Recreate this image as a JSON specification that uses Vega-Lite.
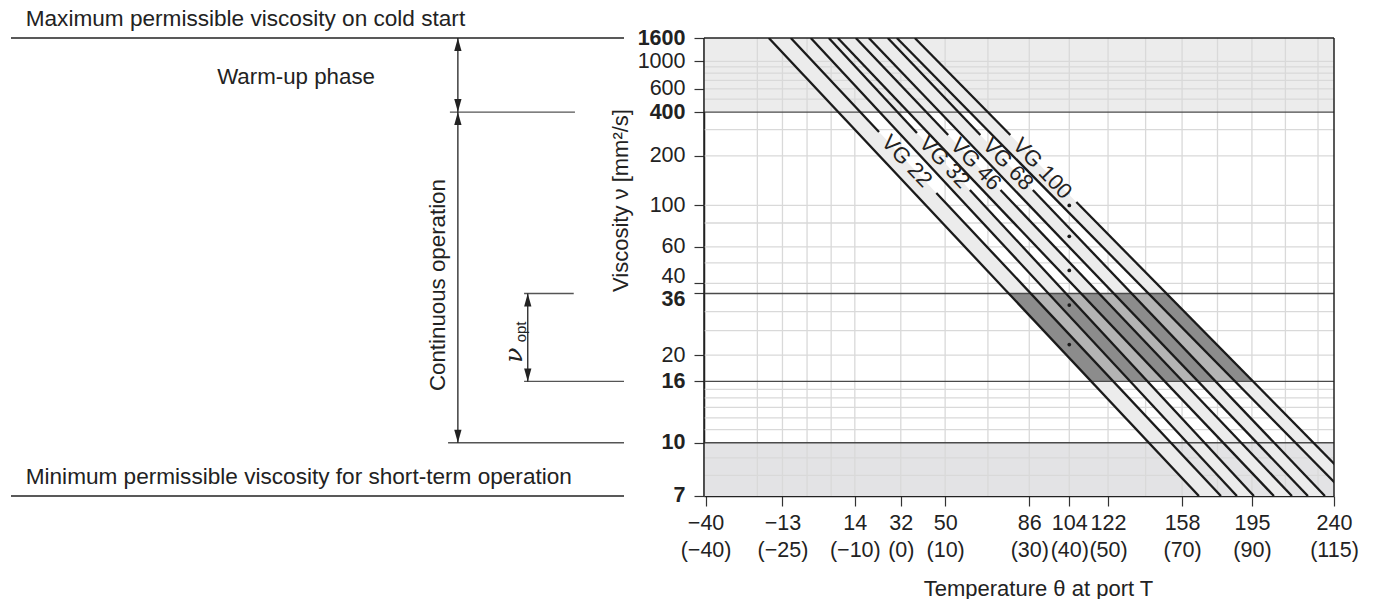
{
  "$schema": "https://vega.github.io/schema/vega-lite/v6.json",
  "padding": {"left": 10, "top": 7, "right": 0, "bottom": 0},
  "background": "white",
  "spacing": 80,
  "bounds": "flush",
  "config": {
    "view": {"stroke": null},
    "text": {"font": "Liberation Sans", "color": "#222"},
    "axis": {"labelFont": "Liberation Sans", "titleFont": "Liberation Sans", "labelFontSize": 21.5, "titleFontSize": 22, "titleFontWeight": "normal", "labelColor": "#222", "titleColor": "#222", "grid": false}
  },
  "hconcat": [
    {
      "width": 613,
      "height": 458,
      "layer": [
        {
          "data": {"values": [
            {"x": 0, "x2": 100, "nu": 1600},
            {"x": 0, "x2": 100, "nu": 7},
            {"x": 71.6, "x2": 92, "nu": 400},
            {"x": 71.3, "x2": 100, "nu": 10},
            {"x": 83.7, "x2": 91.8, "nu": 36},
            {"x": 83.7, "x2": 100, "nu": 16}
          ]},
          "transform": [{"calculate": "log(log(datum.nu + 0.7) / LN10) / LN10", "as": "v"}],
          "mark": {"type": "rule", "strokeWidth": 1.3},
          "encoding": {
            "x": {"field": "x", "type": "quantitative", "scale": {"domain": [0, 100], "nice": false, "zero": false}, "axis": null},
            "x2": {"field": "x2"},
            "y": {"field": "v", "type": "quantitative", "scale": {"domain": [-0.052324, 0.505734], "nice": false, "zero": false}, "axis": null},
            "color": {"condition": {"test": "datum.nu == 1600 || datum.nu == 7", "value": "#222"}, "value": "#555"}
          }
        },
        {
          "data": {"values": [
            {"x": 72.9, "nu": 1600, "nu2": 400},
            {"x": 72.9, "nu": 400, "nu2": 10},
            {"x": 84.3, "nu": 36, "nu2": 16}
          ]},
          "transform": [
            {"calculate": "log(log(datum.nu + 0.7) / LN10) / LN10", "as": "v"},
            {"calculate": "log(log(datum.nu2 + 0.7) / LN10) / LN10", "as": "v2"}
          ],
          "mark": {"type": "rule", "strokeWidth": 1.3, "color": "#222"},
          "encoding": {
            "x": {"field": "x", "type": "quantitative", "scale": {"domain": [0, 100], "nice": false, "zero": false}, "axis": null},
            "y": {"field": "v", "type": "quantitative", "scale": {"domain": [-0.052324, 0.505734], "nice": false, "zero": false}, "axis": null},
            "y2": {"field": "v2"}
          }
        },
        {
          "data": {"values": [
            {"x": 72.9, "nu": 1600},
            {"x": 72.9, "nu": 400},
            {"x": 84.3, "nu": 36}
          ]},
          "transform": [{"calculate": "log(log(datum.nu + 0.7) / LN10) / LN10", "as": "v"}],
          "mark": {"type": "point", "shape": "M0,0L-0.28,1L0.28,1Z", "filled": true, "size": 676, "color": "#222", "opacity": 1, "strokeWidth": 0},
          "encoding": {
            "x": {"field": "x", "type": "quantitative", "scale": {"domain": [0, 100], "nice": false, "zero": false}, "axis": null},
            "y": {"field": "v", "type": "quantitative", "scale": {"domain": [-0.052324, 0.505734], "nice": false, "zero": false}, "axis": null}
          }
        },
        {
          "data": {"values": [
            {"x": 72.9, "nu": 400},
            {"x": 72.9, "nu": 10},
            {"x": 84.3, "nu": 16}
          ]},
          "transform": [{"calculate": "log(log(datum.nu + 0.7) / LN10) / LN10", "as": "v"}],
          "mark": {"type": "point", "shape": "M0,0L-0.28,-1L0.28,-1Z", "filled": true, "size": 676, "color": "#222", "opacity": 1, "strokeWidth": 0},
          "encoding": {
            "x": {"field": "x", "type": "quantitative", "scale": {"domain": [0, 100], "nice": false, "zero": false}, "axis": null},
            "y": {"field": "v", "type": "quantitative", "scale": {"domain": [-0.052324, 0.505734], "nice": false, "zero": false}, "axis": null}
          }
        },
        {
          "data": {"values": [
            {"x": 2.4, "nu": 1600, "label": "Maximum permissible viscosity on cold start"},
            {"x": 2.4, "nu": 7, "label": "Minimum permissible viscosity for short-term operation"}
          ]},
          "transform": [{"calculate": "log(log(datum.nu + 0.7) / LN10) / LN10", "as": "v"}],
          "mark": {"type": "text", "align": "left", "baseline": "bottom", "dy": -7, "fontSize": 22.6},
          "encoding": {
            "x": {"field": "x", "type": "quantitative", "scale": {"domain": [0, 100], "nice": false, "zero": false}, "axis": null},
            "y": {"field": "v", "type": "quantitative", "scale": {"domain": [-0.052324, 0.505734], "nice": false, "zero": false}, "axis": null},
            "text": {"field": "label"}
          }
        },
        {
          "data": {"values": [{"x": 46.5, "nu": 744, "label": "Warm-up phase"}]},
          "transform": [{"calculate": "log(log(datum.nu + 0.7) / LN10) / LN10", "as": "v"}],
          "mark": {"type": "text", "align": "center", "baseline": "middle", "fontSize": 22.3},
          "encoding": {
            "x": {"field": "x", "type": "quantitative", "scale": {"domain": [0, 100], "nice": false, "zero": false}, "axis": null},
            "y": {"field": "v", "type": "quantitative", "scale": {"domain": [-0.052324, 0.505734], "nice": false, "zero": false}, "axis": null},
            "text": {"field": "label"}
          }
        },
        {
          "data": {"values": [{"x": 69.6, "nu": 39.3, "label": "Continuous operation"}]},
          "transform": [{"calculate": "log(log(datum.nu + 0.7) / LN10) / LN10", "as": "v"}],
          "mark": {"type": "text", "align": "center", "baseline": "middle", "angle": 270, "fontSize": 22.3},
          "encoding": {
            "x": {"field": "x", "type": "quantitative", "scale": {"domain": [0, 100], "nice": false, "zero": false}, "axis": null},
            "y": {"field": "v", "type": "quantitative", "scale": {"domain": [-0.052324, 0.505734], "nice": false, "zero": false}, "axis": null},
            "text": {"field": "label"}
          }
        },
        {
          "data": {"values": [{"x": 82.1, "nu": 20, "label": "ν"}]},
          "transform": [{"calculate": "log(log(datum.nu + 0.7) / LN10) / LN10", "as": "v"}],
          "mark": {"type": "text", "align": "center", "baseline": "middle", "angle": 270, "fontSize": 25, "font": "DejaVu Serif", "fontStyle": "italic"},
          "encoding": {
            "x": {"field": "x", "type": "quantitative", "scale": {"domain": [0, 100], "nice": false, "zero": false}, "axis": null},
            "y": {"field": "v", "type": "quantitative", "scale": {"domain": [-0.052324, 0.505734], "nice": false, "zero": false}, "axis": null},
            "text": {"field": "label"}
          }
        },
        {
          "data": {"values": [{"x": 83.2, "nu": 24.7, "label": "opt"}]},
          "transform": [{"calculate": "log(log(datum.nu + 0.7) / LN10) / LN10", "as": "v"}],
          "mark": {"type": "text", "align": "center", "baseline": "middle", "angle": 270, "fontSize": 15},
          "encoding": {
            "x": {"field": "x", "type": "quantitative", "scale": {"domain": [0, 100], "nice": false, "zero": false}, "axis": null},
            "y": {"field": "v", "type": "quantitative", "scale": {"domain": [-0.052324, 0.505734], "nice": false, "zero": false}, "axis": null},
            "text": {"field": "label"}
          }
        }
      ]
    },
    {
      "width": 630,
      "height": 458,
      "layer": [
        {
          "data": {"values": [
            {"t": 243.15}, {"t": 248.15}, {"t": 253.15}, {"t": 258.15}, {"t": 263.15}, {"t": 273.15},
            {"t": 283.15}, {"t": 293.15}, {"t": 303.15}, {"t": 313.15}, {"t": 323.15}, {"t": 333.15},
            {"t": 343.15}, {"t": 353.15}, {"t": 363.15}, {"t": 373.15}, {"t": 383.15}
          ]},
          "mark": {"type": "rule", "color": "#d9d9d9", "strokeWidth": 1.3, "opacity": 0},
          "encoding": {
            "x": {
              "field": "t", "type": "quantitative",
              "scale": {"type": "log", "domain": [232.85, 388.15], "nice": false, "zero": false},
              "axis": {
                "values": [233.15, 248.15, 263.15, 273.15, 283.15, 303.15, 313.15, 323.15, 343.15, 363.15, 388.15],
                "tickCount": 100,
                "labelExpr": "[['−40','−13','14','32','50','86','104','122','158','195','240'][indexof([-40,-25,-10,0,10,30,40,50,70,90,115], round(datum.value - 273.15))], '(' + replace('' + round(datum.value - 273.15), '-', '−') + ')']",
                "labelLineHeight": 27,
                "labelPadding": 6,
                "labelOverlap": false,
                "labelFlush": false,
                "tickSize": 10,
                "tickColor": "#333",
                "tickWidth": 1.2,
                "domainColor": "#222",
                "domainWidth": 1.5,
                "title": "Temperature θ at port T",
                "titleX": 334,
                "titleY": 92,
                "titleAlign": "center",
                "titleBaseline": "middle"
              }
            },
            "y": {
              "datum": 0.2, "type": "quantitative",
              "scale": {"domain": [-0.052324, 0.505734], "nice": false, "zero": false},
              "axis": {
                "values": [0.505734, 0.477165, 0.443838, 0.415444, 0.362209, 0.301687, 0.251197, 0.206716, 0.194422, 0.119246, 0.087326, 0.012578, -0.052323],
                "tickCount": 100,
                "labelExpr": "'' + round(pow(10, pow(10, datum.value)) - 0.7)",
                "labelFontWeight": {"condition": {"test": "indexof([1600, 400, 36, 16, 10, 7], round(pow(10, pow(10, datum.value)) - 0.7)) >= 0", "value": "bold"}, "value": "normal"},
                "labelOffset": {"condition": [
                  {"test": "abs(datum.value - 0.206716) < 0.00001", "value": -7},
                  {"test": "abs(datum.value - 0.194422) < 0.00001", "value": 6}
                ], "value": 0},
                "labelPadding": 9,
                "labelOverlap": false,
                "labelFlush": false,
                "tickSize": 10,
                "tickColor": "#333",
                "tickWidth": 1.2,
                "domainColor": "#222",
                "domainWidth": 1.5,
                "title": "Viscosity ν [mm²/s]",
                "titleX": -84,
                "titleY": 162,
                "titleAlign": "center",
                "titleBaseline": "middle"
              }
            }
          }
        },
        {
          "data": {"values": [
            {"zone": "cold start", "nu": 400, "nu2": 1600},
            {"zone": "short-term", "nu": 7, "nu2": 10}
          ]},
          "transform": [
            {"calculate": "log(log(datum.nu + 0.7) / LN10) / LN10", "as": "v"},
            {"calculate": "log(log(datum.nu2 + 0.7) / LN10) / LN10", "as": "v2"}
          ],
          "mark": {"type": "rect"},
          "encoding": {
            "x": {"datum": 232.85, "type": "quantitative", "scale": {"type": "log", "domain": [232.85, 388.15], "nice": false, "zero": false}},
            "x2": {"datum": 388.15},
            "y": {"field": "v", "type": "quantitative", "scale": {"domain": [-0.052324, 0.505734], "nice": false, "zero": false}},
            "y2": {"field": "v2"},
            "fill": {"condition": {"test": "datum.zone == 'cold start'", "value": "#ececec"}, "value": "#e3e3e5"}
          }
        },
        {
          "data": {"values": [
            {"t": 243.15}, {"t": 248.15}, {"t": 253.15}, {"t": 258.15}, {"t": 263.15}, {"t": 273.15},
            {"t": 283.15}, {"t": 293.15}, {"t": 303.15}, {"t": 313.15}, {"t": 323.15}, {"t": 333.15},
            {"t": 343.15}, {"t": 353.15}, {"t": 363.15}, {"t": 373.15}, {"t": 383.15}
          ]},
          "mark": {"type": "rule", "color": "#d9d9d9", "strokeWidth": 1.3},
          "encoding": {
            "x": {"field": "t", "type": "quantitative", "scale": {"type": "log", "domain": [232.85, 388.15], "nice": false, "zero": false}}
          }
        },
        {
          "data": {"values": [
            {"nu": 8}, {"nu": 9}, {"nu": 11}, {"nu": 12}, {"nu": 13}, {"nu": 14}, {"nu": 15},
            {"nu": 20}, {"nu": 25}, {"nu": 30}, {"nu": 40}, {"nu": 50}, {"nu": 60}, {"nu": 80},
            {"nu": 100}, {"nu": 200}, {"nu": 300}, {"nu": 500}, {"nu": 600}, {"nu": 700},
            {"nu": 800}, {"nu": 900}, {"nu": 1000}
          ]},
          "transform": [{"calculate": "log(log(datum.nu + 0.7) / LN10) / LN10", "as": "v"}],
          "mark": {"type": "rule", "color": "#d9d9d9", "strokeWidth": 1.3},
          "encoding": {
            "y": {"field": "v", "type": "quantitative", "scale": {"domain": [-0.052324, 0.505734], "nice": false, "zero": false}}
          }
        },
        {
          "data": {"values": [
            {"grade": "VG 22", "nu": 1600, "t": 245.41, "t2": 249.83},
            {"grade": "VG 22", "nu": 7, "t": 347.86, "t2": 354.13},
            {"grade": "VG 32", "nu": 1600, "t": 253.91, "t2": 257.65},
            {"grade": "VG 32", "nu": 7, "t": 358.75, "t2": 363.74},
            {"grade": "VG 46", "nu": 1600, "t": 259.54, "t2": 263.36},
            {"grade": "VG 46", "nu": 7, "t": 369.69, "t2": 375.13},
            {"grade": "VG 68", "nu": 1600, "t": 266.15, "t2": 270.28},
            {"grade": "VG 68", "nu": 7, "t": 380.03, "t2": 385.31},
            {"grade": "VG 100", "nu": 1600, "t": 272.27, "t2": 276.27},
            {"grade": "VG 100", "nu": 7, "t": 392.57, "t2": 398.34}
          ]},
          "transform": [{"calculate": "log(log(datum.nu + 0.7) / LN10) / LN10", "as": "v"}],
          "mark": {"type": "area", "orient": "horizontal", "color": "#ececec", "opacity": 1, "clip": true},
          "encoding": {
            "y": {"field": "v", "type": "quantitative", "scale": {"domain": [-0.052324, 0.505734], "nice": false, "zero": false}},
            "x": {"field": "t", "type": "quantitative", "scale": {"type": "log", "domain": [232.85, 388.15], "nice": false, "zero": false}},
            "x2": {"field": "t2"},
            "detail": {"field": "grade"}
          }
        },
        {
          "data": {"values": [
            {"nu": 36, "t": 298.25, "t2": 338.97},
            {"nu": 16, "t": 318.93, "t2": 363.66}
          ]},
          "transform": [{"calculate": "log(log(datum.nu + 0.7) / LN10) / LN10", "as": "v"}],
          "mark": {"type": "area", "orient": "horizontal", "color": "#b4b4b4", "opacity": 1, "clip": true},
          "encoding": {
            "y": {"field": "v", "type": "quantitative", "scale": {"domain": [-0.052324, 0.505734], "nice": false, "zero": false}},
            "x": {"field": "t", "type": "quantitative", "scale": {"type": "log", "domain": [232.85, 388.15], "nice": false, "zero": false}},
            "x2": {"field": "t2"}
          }
        },
        {
          "data": {"values": [
            {"grade": "VG 22", "nu": 36, "t": 298.25, "t2": 303.62},
            {"grade": "VG 22", "nu": 16, "t": 318.93, "t2": 324.68},
            {"grade": "VG 32", "nu": 36, "t": 308.03, "t2": 312.42},
            {"grade": "VG 32", "nu": 16, "t": 329.18, "t2": 333.82},
            {"grade": "VG 46", "nu": 36, "t": 316.29, "t2": 320.94},
            {"grade": "VG 46", "nu": 16, "t": 338.53, "t2": 343.51},
            {"grade": "VG 68", "nu": 36, "t": 324.78, "t2": 329.53},
            {"grade": "VG 68", "nu": 16, "t": 347.78, "t2": 352.76},
            {"grade": "VG 100", "nu": 36, "t": 334.06, "t2": 338.97},
            {"grade": "VG 100", "nu": 16, "t": 358.39, "t2": 363.66}
          ]},
          "transform": [{"calculate": "log(log(datum.nu + 0.7) / LN10) / LN10", "as": "v"}],
          "mark": {"type": "area", "orient": "horizontal", "color": "#8c8c8c", "opacity": 1, "clip": true},
          "encoding": {
            "y": {"field": "v", "type": "quantitative", "scale": {"domain": [-0.052324, 0.505734], "nice": false, "zero": false}},
            "x": {"field": "t", "type": "quantitative", "scale": {"type": "log", "domain": [232.85, 388.15], "nice": false, "zero": false}},
            "x2": {"field": "t2"},
            "detail": {"field": "grade"}
          }
        },
        {
          "data": {"values": [{"nu": 400}, {"nu": 36}, {"nu": 16}, {"nu": 10}]},
          "transform": [{"calculate": "log(log(datum.nu + 0.7) / LN10) / LN10", "as": "v"}],
          "mark": {"type": "rule", "color": "#4a4a4a", "strokeWidth": 1.3},
          "encoding": {
            "y": {"field": "v", "type": "quantitative", "scale": {"domain": [-0.052324, 0.505734], "nice": false, "zero": false}}
          }
        },
        {
          "data": {"values": [{"nu": 1600}]},
          "transform": [{"calculate": "log(log(datum.nu + 0.7) / LN10) / LN10", "as": "v"}],
          "mark": {"type": "rule", "color": "#222", "strokeWidth": 1.5},
          "encoding": {
            "y": {"field": "v", "type": "quantitative", "scale": {"domain": [-0.052324, 0.505734], "nice": false, "zero": false}}
          }
        },
        {
          "data": {"values": [{"t": 232.85}, {"t": 388.15}]},
          "mark": {"type": "rule", "color": "#222", "strokeWidth": 1.5},
          "encoding": {
            "x": {"field": "t", "type": "quantitative", "scale": {"type": "log", "domain": [232.85, 388.15], "nice": false, "zero": false}}
          }
        },
        {
          "data": {"values": [
            {"line": "1", "t": 245.41, "nu": 1600, "t2": 347.86, "nu2": 7},
            {"line": "2", "t": 249.83, "nu": 1600, "t2": 268.37, "nu2": 288.7},
            {"line": "2", "t": 281.14, "nu": 118.0, "t2": 354.13, "nu2": 7},
            {"line": "3", "t": 253.91, "nu": 1600, "t2": 358.75, "nu2": 7},
            {"line": "4", "t": 257.65, "nu": 1600, "t2": 276.75, "nu2": 284.1},
            {"line": "4", "t": 288.89, "nu": 122.9, "t2": 363.74, "nu2": 7},
            {"line": "5", "t": 259.54, "nu": 1600, "t2": 369.69, "nu2": 7},
            {"line": "6", "t": 263.36, "nu": 1600, "t2": 283.85, "nu2": 275.3},
            {"line": "6", "t": 296.16, "nu": 122.9, "t2": 375.13, "nu2": 7},
            {"line": "7", "t": 266.15, "nu": 1600, "t2": 380.03, "nu2": 7},
            {"line": "8", "t": 270.28, "nu": 1600, "t2": 291.36, "nu2": 275.3},
            {"line": "8", "t": 304.03, "nu": 122.9, "t2": 385.31, "nu2": 7},
            {"line": "9", "t": 272.27, "nu": 1600, "t2": 392.57, "nu2": 7},
            {"line": "10", "t": 276.27, "nu": 1600, "t2": 298.53, "nu2": 275.3},
            {"line": "10", "t": 314.95, "nu": 104.6, "t2": 398.34, "nu2": 7}
          ]},
          "transform": [
            {"calculate": "log(log(datum.nu + 0.7) / LN10) / LN10", "as": "v"},
            {"calculate": "log(log(datum.nu2 + 0.7) / LN10) / LN10", "as": "v2"}
          ],
          "mark": {"type": "rule", "color": "#1a1a1a", "strokeWidth": 2.3, "clip": true},
          "encoding": {
            "x": {"field": "t", "type": "quantitative", "scale": {"type": "log", "domain": [232.85, 388.15], "nice": false, "zero": false}},
            "x2": {"field": "t2"},
            "y": {"field": "v", "type": "quantitative", "scale": {"domain": [-0.052324, 0.505734], "nice": false, "zero": false}},
            "y2": {"field": "v2"}
          }
        },
        {
          "data": {"values": [
            {"grade": "VG 22", "t": 313.15, "nu": 22},
            {"grade": "VG 32", "t": 313.15, "nu": 32},
            {"grade": "VG 46", "t": 313.15, "nu": 46},
            {"grade": "VG 68", "t": 313.15, "nu": 68},
            {"grade": "VG 100", "t": 313.15, "nu": 100}
          ]},
          "transform": [{"calculate": "log(log(datum.nu + 0.7) / LN10) / LN10", "as": "v"}],
          "mark": {"type": "point", "filled": true, "size": 14, "color": "#1a1a1a", "opacity": 1},
          "encoding": {
            "x": {"field": "t", "type": "quantitative", "scale": {"type": "log", "domain": [232.85, 388.15], "nice": false, "zero": false}},
            "y": {"field": "v", "type": "quantitative", "scale": {"domain": [-0.052324, 0.505734], "nice": false, "zero": false}}
          }
        },
        {
          "data": {"values": [
            {"grade": "VG 22", "t": 268.37, "nu": 288.7},
            {"grade": "VG 32", "t": 276.75, "nu": 284.1},
            {"grade": "VG 46", "t": 283.85, "nu": 275.3},
            {"grade": "VG 68", "t": 291.36, "nu": 275.3},
            {"grade": "VG 100", "t": 298.53, "nu": 275.3}
          ]},
          "transform": [{"calculate": "log(log(datum.nu + 0.7) / LN10) / LN10", "as": "v"}],
          "mark": {"type": "text", "align": "left", "baseline": "middle", "angle": 46.5, "dx": 9, "fontSize": 22, "font": "Liberation Sans", "color": "#222"},
          "encoding": {
            "x": {"field": "t", "type": "quantitative", "scale": {"type": "log", "domain": [232.85, 388.15], "nice": false, "zero": false}},
            "y": {"field": "v", "type": "quantitative", "scale": {"domain": [-0.052324, 0.505734], "nice": false, "zero": false}},
            "text": {"field": "grade"}
          }
        }
      ]
    }
  ]
}
